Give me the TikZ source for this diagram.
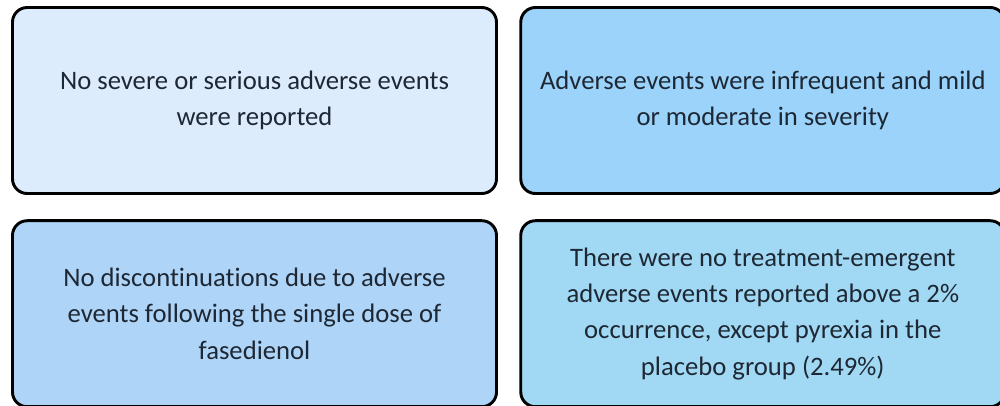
\documentclass[tikz,border=0pt]{standalone}
\usepackage{fontspec}
\setmainfont{Carlito}[Ligatures=CommonOff]
\usetikzlibrary{positioning}

\definecolor{boxpale}{RGB}{221,236,253}
\definecolor{boxsky}{RGB}{155,211,250}
\definecolor{boxsoft}{RGB}{174,212,247}
\definecolor{boxaqua}{RGB}{161,216,244}
\definecolor{textdark}{RGB}{30,40,52}

\begin{document}
\begin{tikzpicture}[x=0.75pt,y=-0.75pt,
		finding/.style={draw=black, line width=2.2pt, rounded corners=11pt,
			minimum width=363pt, minimum height=139.5pt, inner sep=0pt,
			align=center, text=textdark, font=\fontsize{20}{27.3}\selectfont},
		node distance=18.2pt and 16pt]
		\useasboundingbox (0,0) rectangle (1000,405);
		\clip (0,0) rectangle (1000,405);

		\node [finding, fill=boxpale] (serious) at (254.5,100.5) {No severe or serious adverse events\\were reported};
		\node [finding, fill=boxsky, right=of serious] (mild) {Adverse events were infrequent and mild\\or moderate in severity};
		\node [finding, fill=boxsoft, below=of serious] (discont) {No discontinuations due to adverse\\events following the single dose of\\fasedienol};
		\node [finding, fill=boxaqua, below=of mild] (teae) {There were no treatment-emergent\\adverse events reported above a 2\%\\occurrence, except pyrexia in the\\placebo group (2.49\%)};
\end{tikzpicture}
\end{document}
